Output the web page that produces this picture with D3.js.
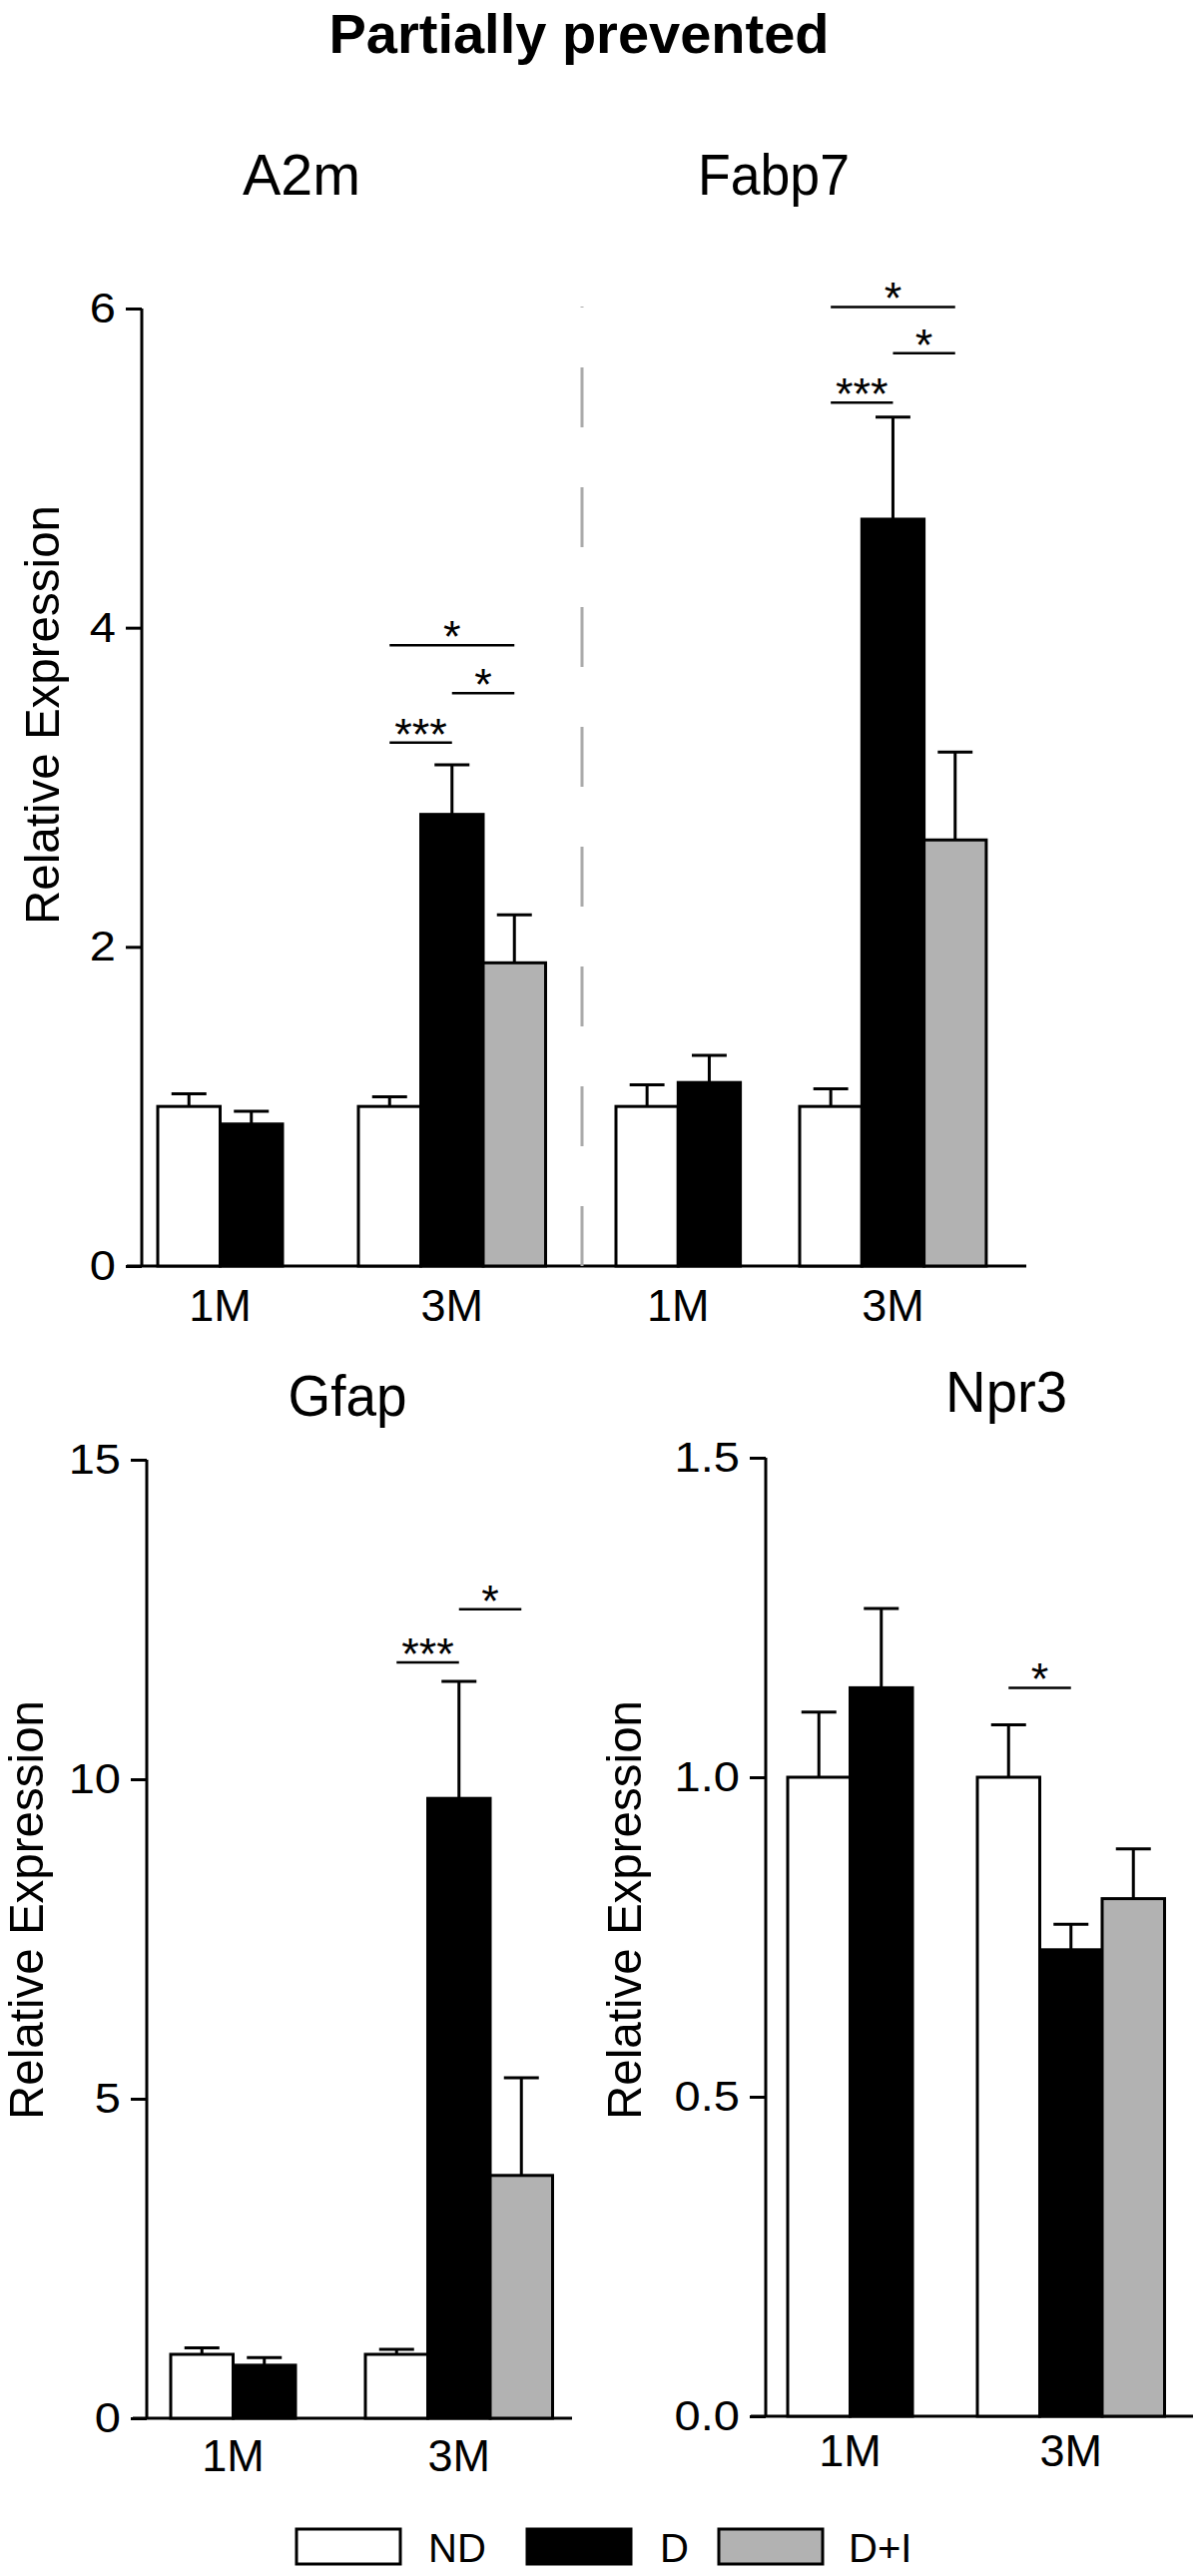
<!DOCTYPE html>
<html><head><meta charset="utf-8">
<script src="https://cdn.jsdelivr.net/npm/d3@7"></script>
<style>
html,body{margin:0;padding:0;background:#fff;}
svg text{font-family:"Liberation Sans",Arial,Helvetica,sans-serif;fill:#000;}
</style></head>
<body>
<svg id="chart" width="1200" height="2580"></svg>
<script>
// ---------- data ----------
const mainTitle = "Partially prevented";
const groups = ["1M", "3M"];
const series = ["ND", "D", "D+I"];
const seriesColors = ["#ffffff", "#000000", "#b2b2b2"];
const yLabel = "Relative Expression";

const a2mMeans  = [[1.00, 0.89], [1.00, 2.83, 1.90]];
const a2mSem    = [[0.08, 0.08], [0.06, 0.31, 0.30]];
const fabp7Means = [[1.00, 1.15], [1.00, 4.68, 2.67]];
const fabp7Sem   = [[0.135, 0.17], [0.11, 0.64, 0.55]];
const gfapMeans = [[1.00, 0.83], [1.00, 9.70, 3.80]];
const gfapSem   = [[0.10, 0.12], [0.08, 1.83, 1.53]];
const npr3Means = [[1.00, 1.14], [1.00, 0.73, 0.81]];
const npr3Sem   = [[0.102, 0.124], [0.082, 0.04, 0.078]];

const topTicks  = [0, 2, 4, 6];
const gfapTicks = [0, 5, 10, 15];
const npr3Ticks = [0, 0.5, 1.0, 1.5];

// significance annotations: [group, from series, to series, level, label]
const a2mSig   = [["3M","ND","D",3.28,"***"], ["3M","D","D+I",3.59,"*"], ["3M","ND","D+I",3.89,"*"]];
const fabp7Sig = [["3M","ND","D",5.41,"***"], ["3M","D","D+I",5.72,"*"], ["3M","ND","D+I",6.01,"*"]];
const gfapSig  = [["3M","ND","D",11.83,"***"], ["3M","D","D+I",12.66,"*"]];
const npr3Sig  = [["3M","ND","D",1.14,"*"]];

// ---------- drawing ----------
const svg = d3.select("#chart");
const FONT = '"Liberation Sans",Arial,Helvetica,sans-serif';

svg.append("text").attr("x", 580).attr("y", 53).attr("text-anchor", "middle")
  .style("font-size", "56px").style("font-weight", "bold").text(mainTitle);

function makeY(domainMax, y0, y1) {
  return d3.scaleLinear().domain([0, domainMax]).range([y0, y1]);
}

function drawYAxis(y, x, ticks, fmt, labelX, labelY) {
  const TS = 16, SX = 1.12, GAP = 26;
  const g = svg.append("g").attr("transform", `translate(${x},0)`)
    .call(d3.axisLeft(y).tickValues(ticks).tickSize(TS).tickPadding(10).tickFormat(fmt));
  g.select(".domain").attr("stroke", "#000").attr("stroke-width", 3)
    .attr("d", `M0,${y(0)}V${y(ticks[ticks.length - 1])}`);
  g.selectAll(".tick line").attr("stroke", "#000").attr("stroke-width", 3);
  g.selectAll(".tick text").style("font-size", "42px").style("font-family", FONT).attr("fill", "#000")
    .attr("x", -GAP / SX).attr("transform", `scale(${SX},1)`);
  svg.append("text").attr("transform", `translate(${labelX},${labelY}) rotate(-90)`)
    .attr("text-anchor", "middle").style("font-size", "49px")
    .attr("textLength", 420).attr("lengthAdjust", "spacingAndGlyphs").text(yLabel);
}

function drawXAxisLine(y, x0, x1) {
  svg.append("line").attr("x1", x0).attr("x2", x1).attr("y1", y(0)).attr("y2", y(0))
    .attr("stroke", "#000").attr("stroke-width", 3);
}

function drawPanel(opts) {
  const { title, titleX, titleY, titleW, y, lefts, bw, means, sem, sig, labelY } = opts;
  svg.append("text").attr("x", titleX - titleW / 2).attr("y", titleY)
    .style("font-size", "57px").attr("textLength", titleW).attr("lengthAdjust", "spacingAndGlyphs")
    .text(title);

  const inner = groups.map((gname, gi) =>
    d3.scaleBand().domain(series).range([lefts[gi], lefts[gi] + 3 * bw]).padding(0));

  const g = svg.append("g");
  groups.forEach((gname, gi) => {
    const xs = inner[gi];
    const vals = means[gi].map((v, si) => ({ s: series[si], v, e: sem[gi][si], c: seriesColors[si] }));
    g.selectAll(null).data(vals).enter().append("path")
      .attr("d", d => {
        const cx = xs(d.s) + xs.bandwidth() / 2;
        const hw = xs.bandwidth() * 0.28;
        return `M${cx},${y(d.v)}V${y(d.v + d.e)}M${cx - hw},${y(d.v + d.e)}H${cx + hw}`;
      })
      .attr("fill", "none").attr("stroke", "#000").attr("stroke-width", 3);
    g.selectAll(null).data(vals).enter().append("rect")
      .attr("x", d => xs(d.s)).attr("width", xs.bandwidth())
      .attr("y", d => y(d.v)).attr("height", d => y(0) - y(d.v))
      .attr("fill", d => d.c).attr("stroke", "#000").attr("stroke-width", 3);
    const n = vals.length;
    const cx = (xs(series[0]) + xs(series[n - 1]) + xs.bandwidth()) / 2;
    svg.append("text").attr("x", cx).attr("y", labelY).attr("text-anchor", "middle")
      .style("font-size", "45px").text(gname);
  });

  sig.forEach(([gname, a, b, level, lab]) => {
    const xs = inner[groups.indexOf(gname)];
    const xa = xs(a) + xs.bandwidth() / 2, xb = xs(b) + xs.bandwidth() / 2;
    svg.append("line").attr("x1", xa).attr("x2", xb).attr("y1", y(level)).attr("y2", y(level))
      .attr("stroke", "#000").attr("stroke-width", 2.5);
    svg.append("text").attr("x", (xa + xb) / 2).attr("y", y(level) + 7).attr("text-anchor", "middle")
      .style("font-size", "45px").text(lab);
  });
}

// Top row: A2m + Fabp7 share y-axis
const yTop = makeY(6, 1268, 309);
drawXAxisLine(yTop, 127, 1028);
drawYAxis(yTop, 142, topTicks, d3.format("d"), 59, 716);
svg.append("line").attr("x1", 583).attr("x2", 583).attr("y1", yTop(0)).attr("y2", 307)
  .attr("stroke", "#aaaaaa").attr("stroke-width", 3).attr("stroke-dasharray", "60,60");
drawPanel({ title: "A2m", titleX: 302, titleY: 195, titleW: 118, y: yTop, lefts: [158, 359], bw: 62.5,
  means: a2mMeans, sem: a2mSem, sig: a2mSig, labelY: 1323 });
drawPanel({ title: "Fabp7", titleX: 775, titleY: 195, titleW: 152, y: yTop, lefts: [617, 801], bw: 62.3,
  means: fabp7Means, sem: fabp7Sem, sig: fabp7Sig, labelY: 1323 });

// Gfap
const yG = makeY(15, 2422, 1462);
drawXAxisLine(yG, 133, 573);
drawYAxis(yG, 147, gfapTicks, d3.format("d"), 43, 1913);
drawPanel({ title: "Gfap", titleX: 348, titleY: 1418, titleW: 119, y: yG, lefts: [171, 366], bw: 62.5,
  means: gfapMeans, sem: gfapSem, sig: gfapSig, labelY: 2475 });

// Npr3
const yN = makeY(1.5, 2420, 1460);
drawXAxisLine(yN, 752, 1195);
drawYAxis(yN, 767, npr3Ticks, d3.format(".1f"), 642, 1913);
drawPanel({ title: "Npr3", titleX: 1008, titleY: 1414, titleW: 122, y: yN, lefts: [789, 979], bw: 62.5,
  means: npr3Means, sem: npr3Sem, sig: npr3Sig, labelY: 2470 });

// Legend
const legX = [297, 528, 720], legTextX = [429, 661, 850];
series.forEach((s, i) => {
  svg.append("rect").attr("x", legX[i]).attr("y", 2533).attr("width", 104).attr("height", 35)
    .attr("fill", seriesColors[i]).attr("stroke", "#000").attr("stroke-width", 3);
  svg.append("text").attr("x", legTextX[i]).attr("y", 2566).style("font-size", "40px").text(s);
});
</script>
</body></html>
